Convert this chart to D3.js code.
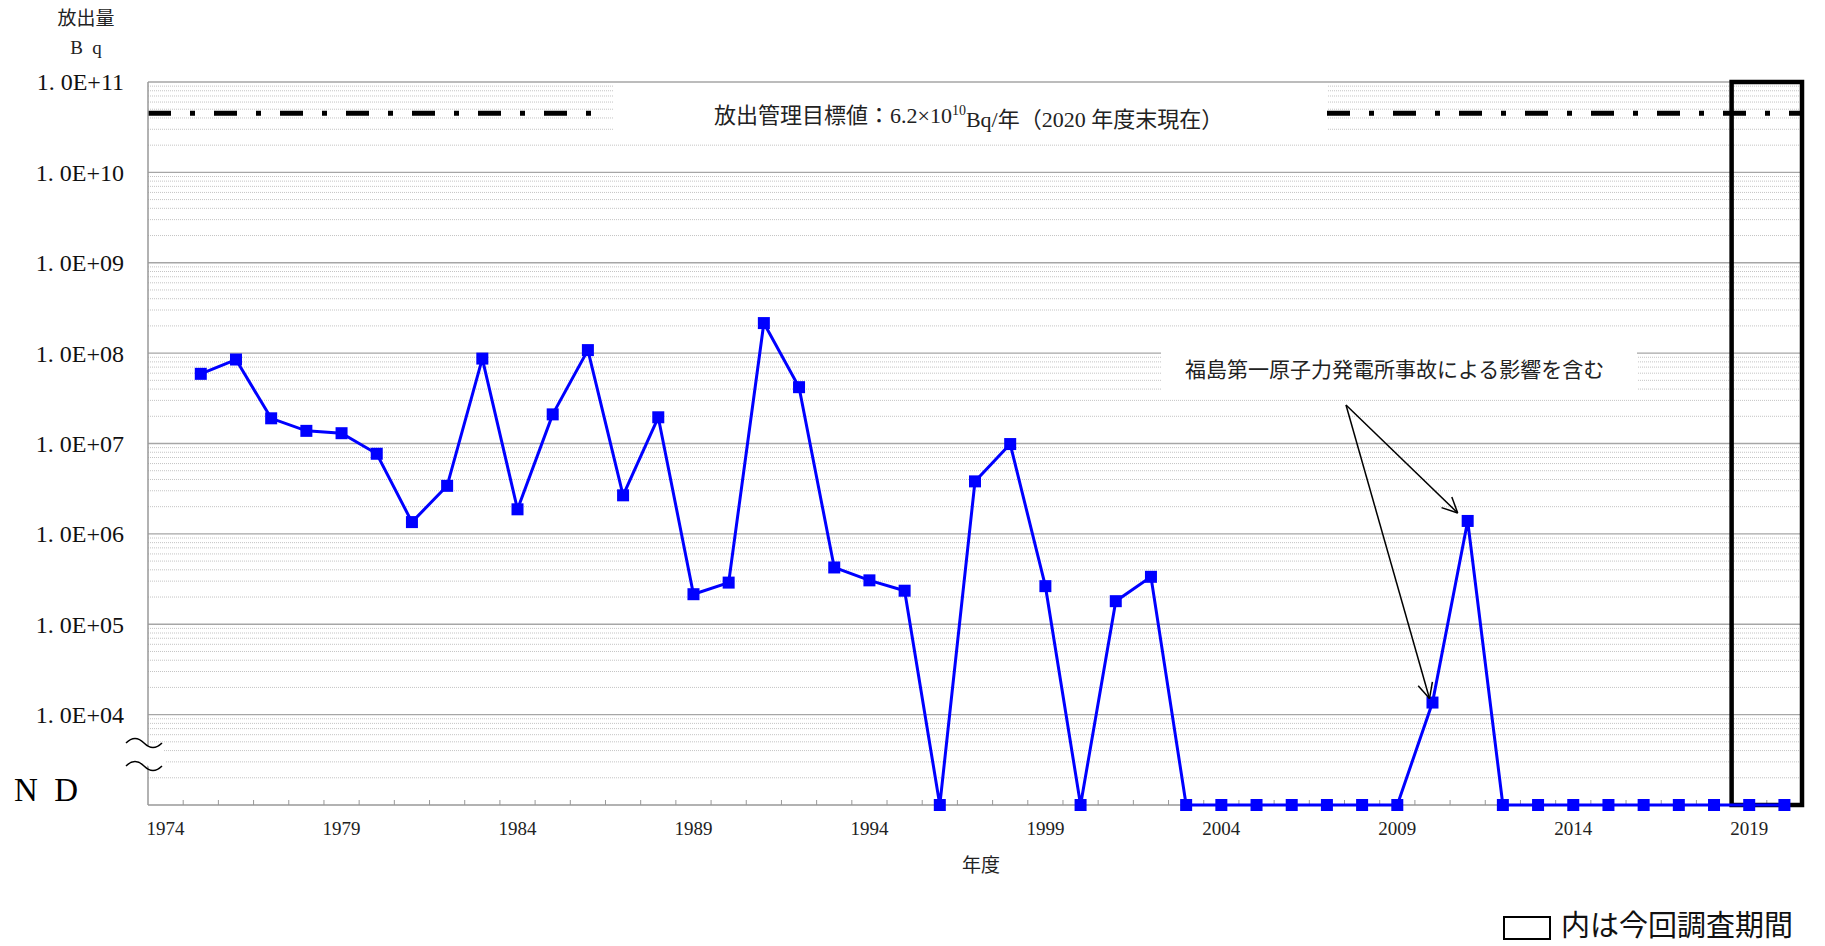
<!DOCTYPE html>
<html>
<head>
<meta charset="utf-8">
<script src="https://cdn.jsdelivr.net/npm/d3@7"></script>
<style>
  body { margin: 0; background: #fff; }
  svg { display: block; }
</style>
</head>
<body>
<div id="chart"></div>
<script>
// fiscal years on the category axis
const years = [1974, 1975, 1976, 1977, 1978, 1979, 1980, 1981, 1982, 1983, 1984, 1985, 1986, 1987, 1988, 1989,
    1990, 1991, 1992, 1993, 1994, 1995, 1996, 1997, 1998, 1999, 2000, 2001, 2002, 2003, 2004, 2005,
    2006, 2007, 2008, 2009, 2010, 2011, 2012, 2013, 2014, 2015, 2016, 2017, 2018, 2019, 2020];

// release amount (Bq), null = no data, "ND" = not detected
const releaseBq = [null, 5.9e7, 8.5e7, 1.9e7, 1.38e7, 1.3e7, 7.7e6, 1.35e6, 3.4e6, 8.7e7, 1.87e6, 2.1e7, 1.08e8,
    2.67e6, 1.95e7, 2.15e5, 2.89e5, 2.15e8, 4.2e7, 4.25e5, 3.06e5, 2.35e5, "ND", 3.81e6, 9.86e6, 2.64e5,
    "ND", 1.8e5, 3.35e5, "ND", "ND", "ND", "ND", "ND", "ND", "ND", 1.36e4, 1.39e6,
    "ND", "ND", "ND", "ND", "ND", "ND", "ND", "ND", "ND"];

const yearLabels = [1974, 1979, 1984, 1989, 1994, 1999, 2004, 2009, 2014, 2019];
const decadeTicks = [1e4, 1e5, 1e6, 1e7, 1e8, 1e9, 1e10, 1e11];
const ndLevel = 1e3;
const targetLineLevel = 4.5e10;   // where the dash-dot line sits in the picture
const surveyYears = [2019, 2020];
const affectedYears = [2010, 2011];

const W = 1825, H = 946;
const margin = { top: 82, right: 23, bottom: 141, left: 148 };
const width = W - margin.left - margin.right,
    height = H - margin.top - margin.bottom;

const serif = "'Liberation Serif', 'DejaVu Serif', serif";
const cjk = "'Noto Sans CJK JP', sans-serif";

const svg = d3.select("#chart").append("svg")
    .attr("width", W)
    .attr("height", H);

const g = svg.append("g")
    .attr("transform", `translate(${margin.left},${margin.top})`);

const x = d3.scaleBand()
    .domain(years)
    .range([0, width])
    .padding(0);
const xc = d => x(d) + x.bandwidth() / 2;

const y = d3.scaleLog()
    .domain([ndLevel, 1e11])
    .range([height, 0]);

// minor grid (2..9 x each decade), dotted
const minor = [];
for (let e = 3; e < 11; e++) {
    for (let k = 2; k <= 9; k++) minor.push(k * Math.pow(10, e));
}
g.append("g").selectAll("line")
    .data(minor)
    .join("line")
    .attr("x1", 0).attr("x2", width)
    .attr("y1", d => y(d)).attr("y2", d => y(d))
    .attr("stroke", "#c4c4c4")
    .attr("stroke-width", 1)
    .attr("stroke-dasharray", "1,1");

// major grid
g.append("g").selectAll("line")
    .data(decadeTicks)
    .join("line")
    .attr("x1", 0).attr("x2", width)
    .attr("y1", d => y(d)).attr("y2", d => y(d))
    .attr("stroke", "#a6a6a6")
    .attr("stroke-width", 1.3);

// white label boxes over the grid
g.append("rect")
    .attr("x", 466).attr("y", 3)
    .attr("width", 1179 - 466).attr("height", 53)
    .attr("fill", "#fff");

g.append("rect")
    .attr("x", 1013).attr("y", 264)
    .attr("width", 476).attr("height", 46)
    .attr("fill", "#fff");

// target line (dash-dot), broken by the label
const ty = y(targetLineLevel);
[[0, 451], [1179, width]].forEach(([a, b]) => {
    g.append("line")
        .attr("x1", a).attr("x2", b)
        .attr("y1", ty).attr("y2", ty)
        .attr("stroke", "#000")
        .attr("stroke-width", 5)
        .attr("stroke-dasharray", "23,19,5,19");
});

// x axis: ticks at category boundaries, pointing up
g.append("line")
    .attr("x1", 0).attr("x2", width)
    .attr("y1", height).attr("y2", height)
    .attr("stroke", "#999")
    .attr("stroke-width", 1.5);
g.append("g").selectAll("line")
    .data(years.slice(1))
    .join("line")
    .attr("x1", d => x(d)).attr("x2", d => x(d))
    .attr("y1", height).attr("y2", height - 5)
    .attr("stroke", "#999")
    .attr("stroke-width", 1);

g.append("g").selectAll("text")
    .data(yearLabels)
    .join("text")
    .attr("x", d => xc(d))
    .attr("y", height + 30)
    .attr("text-anchor", "middle")
    .attr("font-family", serif)
    .attr("font-size", "19px")
    .attr("fill", "#222")
    .text(d => d);

g.append("text")
    .attr("x", 833)
    .attr("y", height + 67)
    .attr("text-anchor", "middle")
    .attr("font-family", cjk)
    .attr("font-size", "19px")
    .attr("fill", "#222")
    .text("年度");

// y axis line
g.append("line")
    .attr("x1", 0).attr("x2", 0)
    .attr("y1", 0).attr("y2", height)
    .attr("stroke", "#999")
    .attr("stroke-width", 1.5);

const fmt = d => `1. 0E+${String(Math.round(Math.log10(d))).padStart(2, "0")}`;
g.append("g").selectAll("text")
    .data(decadeTicks)
    .join("text")
    .attr("x", -24)
    .attr("y", d => y(d))
    .attr("dy", "0.35em")
    .attr("text-anchor", "end")
    .attr("font-family", serif)
    .attr("font-size", "24px")
    .attr("fill", "#111")
    .text(fmt);

// only the tail of the 1E+03 label shows beside the ND text
svg.append("clipPath").attr("id", "clip3")
    .append("rect").attr("x", 117).attr("y", 780).attr("width", 40).attr("height", 40);
g.append("text")
    .attr("x", -24)
    .attr("y", y(ndLevel) + 4)
    .attr("dy", "0.35em")
    .attr("text-anchor", "end")
    .attr("font-family", serif)
    .attr("font-size", "24px")
    .attr("fill", "#111")
    .attr("clip-path", "url(#clip3)")
    .text(fmt(ndLevel).slice(-1));

svg.append("text")
    .attr("x", 14)
    .attr("y", 801)
    .attr("font-family", serif)
    .attr("font-size", "33px")
    .attr("fill", "#000")
    .attr("xml:space", "preserve")
    .text("N  D");

// axis break marker
const by1 = 743 - margin.top, by2 = 766 - margin.top;
const wave = yy => `M -22 ${yy} q 9 -9 18 0 t 18 0`;
g.append("path")
    .attr("d", `M -22 ${by1} q 9 -9 18 0 t 18 0 L 18 ${by2} q -9 9 -18 0 t -18 0 Z`)
    .attr("fill", "#fff");
[by1, by2].forEach(yy => {
    g.append("path")
        .attr("d", wave(yy))
        .attr("fill", "none")
        .attr("stroke", "#000")
        .attr("stroke-width", 1.5);
});

// period box
g.append("rect")
    .attr("x", x(surveyYears[0]))
    .attr("y", 0)
    .attr("width", width - x(surveyYears[0]))
    .attr("height", height)
    .attr("fill", "none")
    .attr("stroke", "#000")
    .attr("stroke-width", 4.5);

// series
const pts = years.map((yr, i) => ({ year: yr, v: releaseBq[i] }))
    .filter(d => d.v !== null)
    .map(d => ({ year: d.year, v: d.v === "ND" ? ndLevel : d.v }));

g.append("path")
    .datum(pts)
    .attr("fill", "none")
    .attr("stroke", "#0000ff")
    .attr("stroke-width", 3)
    .attr("d", d3.line().x(d => xc(d.year)).y(d => y(d.v)));

g.append("g").selectAll("rect")
    .data(pts)
    .join("rect")
    .attr("x", d => xc(d.year) - 6)
    .attr("y", d => y(d.v) - 6)
    .attr("width", 12)
    .attr("height", 12)
    .attr("fill", "#0000ff");

// annotation arrows
const a0 = [1346 - margin.left, 405 - margin.top];
const tips = [
    [xc(affectedYears[0]) - 3, y(pts.find(d => d.year === affectedYears[0]).v) - 4],
    [xc(affectedYears[1]) - 10, y(pts.find(d => d.year === affectedYears[1]).v) - 8]
];
tips.forEach(t => {
    const ang = Math.atan2(t[1] - a0[1], t[0] - a0[0]);
    const L = 17, s = 0.45;
    g.append("line")
        .attr("x1", a0[0]).attr("y1", a0[1])
        .attr("x2", t[0]).attr("y2", t[1])
        .attr("stroke", "#000").attr("stroke-width", 1.5);
    [ang + Math.PI - s, ang + Math.PI + s].forEach(b => {
        g.append("line")
            .attr("x1", t[0]).attr("y1", t[1])
            .attr("x2", t[0] + L * Math.cos(b)).attr("y2", t[1] + L * Math.sin(b))
            .attr("stroke", "#000").attr("stroke-width", 1.5);
    });
});

g.append("text")
    .attr("x", 1037)
    .attr("y", 288)
    .attr("dy", "0.35em")
    .attr("font-family", cjk)
    .attr("font-size", "21px")
    .attr("fill", "#222")
    .text("福島第一原子力発電所事故による影響を含む");

// target label
const tl = g.append("text")
    .attr("x", 566)
    .attr("y", 33)
    .attr("dy", "0.35em")
    .attr("font-family", cjk)
    .attr("font-size", "22px")
    .attr("fill", "#222");
tl.append("tspan").text("放出管理目標値：");
tl.append("tspan").attr("font-family", serif).text("6.2×10");
tl.append("tspan").attr("font-family", serif).attr("font-size", "14px").attr("dy", "-0.55em").text("10");
tl.append("tspan").attr("font-family", serif).attr("dy", "0.55em").text("Bq/");
tl.append("tspan").text("年（");
tl.append("tspan").attr("font-family", serif).text("2020 ");
tl.append("tspan").text("年度末現在）");

// y axis title
svg.append("text")
    .attr("x", 86).attr("y", 25)
    .attr("text-anchor", "middle")
    .attr("font-family", cjk)
    .attr("font-size", "19px")
    .attr("fill", "#222")
    .text("放出量");
svg.append("text")
    .attr("x", 86).attr("y", 54)
    .attr("text-anchor", "middle")
    .attr("font-family", serif)
    .attr("font-size", "19px")
    .attr("fill", "#222")
    .attr("xml:space", "preserve")
    .text("B  q");

// legend for the survey box
svg.append("rect")
    .attr("x", 1504).attr("y", 917)
    .attr("width", 46).attr("height", 22)
    .attr("fill", "none")
    .attr("stroke", "#000")
    .attr("stroke-width", 2);
svg.append("text")
    .attr("x", 1561).attr("y", 926)
    .attr("dy", "0.35em")
    .attr("font-family", cjk)
    .attr("font-size", "29px")
    .attr("fill", "#111")
    .text("内は今回調査期間");
</script>
</body>
</html>
